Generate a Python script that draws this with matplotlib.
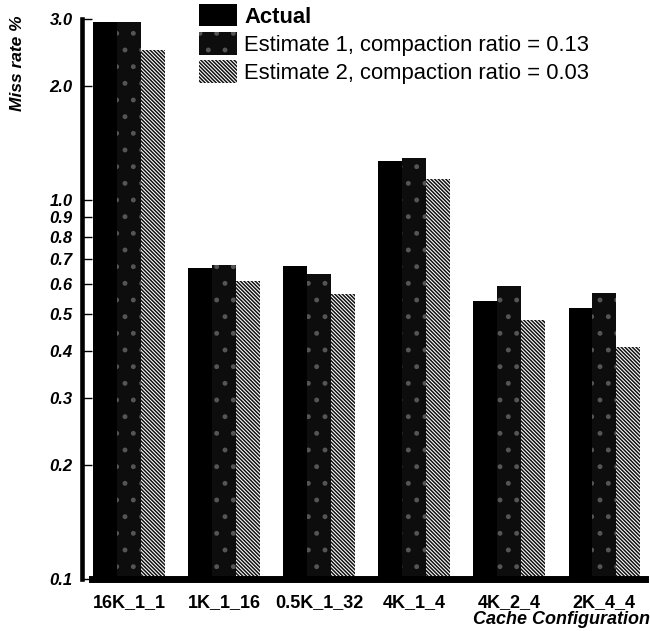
import numpy as np
import matplotlib
matplotlib.use("Agg")
import matplotlib.pyplot as plt
from matplotlib.patches import Patch
from matplotlib.ticker import FixedLocator, FixedFormatter, NullLocator

plt.rcParams['font.family'] = ['Liberation Sans', 'DejaVu Sans']
plt.rcParams['hatch.linewidth'] = 1.1

# --- miss rate (%) per cache configuration ---
configs = ['16K_1_1', '1K_1_16', '0.5K_1_32', '4K_1_4', '4K_2_4', '2K_4_4']
actual = [2.95, 0.663, 0.670, 1.267, 0.542, 0.519]
estimate1 = [2.95, 0.674, 0.637, 1.288, 0.594, 0.568]
estimate2 = [2.49, 0.612, 0.564, 1.134, 0.482, 0.409]

series_labels = ['Actual',
                 'Estimate 1, compaction ratio = 0.13',
                 'Estimate 2, compaction ratio = 0.03']

ytick_vals = [0.1, 0.2, 0.3, 0.4, 0.5, 0.6, 0.7, 0.8, 0.9, 1.0, 2.0, 3.0]
ytick_labels = ['0.1', '0.2', '0.3', '0.4', '0.5', '0.6', '0.7', '0.8',
                '0.9', '1.0', '2.0', '3.0']

# bar fill styles
est1_style = dict(facecolor='#0d0d0d', edgecolor='#555555', hatch='.',
                  linewidth=0)
est2_style = dict(facecolor='white', edgecolor='#111111',
                  hatch='\\\\\\\\\\\\\\\\\\', linewidth=0)

fig = plt.figure(figsize=(6.5, 6.31), dpi=100)
ax = fig.add_axes([92 / 650, 1 - 579 / 631, 553 / 650, 560 / 631])

x = np.arange(len(configs))
w = 0.25
ax.bar(x - w, actual, w, color='black', linewidth=0)
ax.bar(x, estimate1, w, **est1_style)
ax.bar(x + w, estimate2, w, **est2_style)

ax.set_yscale('log')
ax.set_ylim(0.1, 3.0)
ax.set_xlim(-0.39, 5.43)

ax.yaxis.set_major_locator(FixedLocator(ytick_vals))
ax.yaxis.set_major_formatter(FixedFormatter(ytick_labels))
ax.yaxis.set_minor_locator(NullLocator())
ax.tick_params(axis='y', direction='in', length=7, width=1, pad=7)

ax.set_xticks(x)
ax.set_xticklabels(configs, fontsize=13, fontweight='bold')
ax.tick_params(axis='x', length=0, pad=11)

for s in ['top', 'right']:
    ax.spines[s].set_visible(False)
ax.spines['left'].set_linewidth(3.3)
ax.spines['left'].set_position(('outward', 7))
ax.spines['bottom'].set_linewidth(5)

fig.canvas.draw()
for lbl in ax.get_yticklabels():
    lbl.set_fontsize(12)
    lbl.set_fontweight('bold')
    lbl.set_fontstyle('italic')

fig.text(18 / 650, 1 - 63 / 631, 'Miss rate %', rotation=90, ha='center',
         va='center', fontsize=12.5, fontweight='bold', fontstyle='italic')
fig.text(650 / 650, 1 - 620 / 631, 'Cache Configuration', ha='right',
         va='center', fontsize=13, fontweight='bold', fontstyle='italic')

handles = [
    Patch(facecolor='black', linewidth=0),
    Patch(**est1_style),
    Patch(**est2_style),
]
leg = fig.legend(handles, series_labels, loc='upper left',
                 bbox_to_anchor=(199 / 650, 1 - 4 / 631), frameon=False,
                 fontsize=15.8, handlelength=1.75, handleheight=1.2,
                 handletextpad=0.3, labelspacing=0.2, borderaxespad=0,
                 borderpad=0)
leg.get_texts()[0].set_fontweight('bold')

fig.savefig('out.png', dpi=100)
